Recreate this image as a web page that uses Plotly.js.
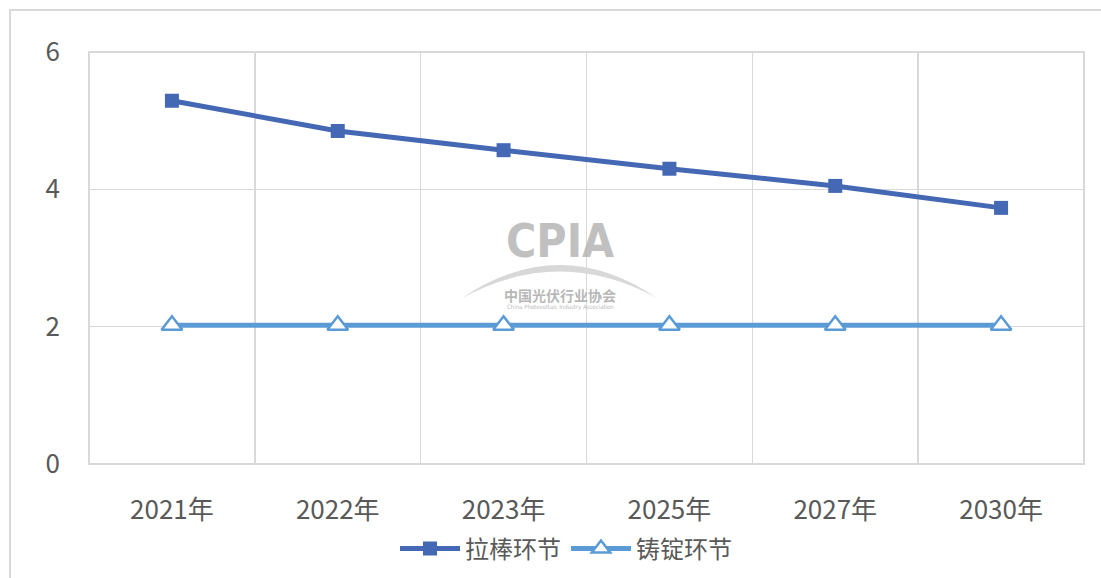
<!DOCTYPE html>
<html>
<head>
<meta charset="utf-8">
<script src="https://cdn.plot.ly/plotly-3.0.1.min.js"></script>
<style>
  html, body { margin: 0; padding: 0; background: #fff; }
  #chart { width: 1101px; height: 578px; }
</style>
</head>
<body>
<div id="chart"></div>
<script>
const years = ["2021年", "2022年", "2023年", "2025年", "2027年", "2030年"];
const pullRod = [5.29, 4.85, 4.57, 4.30, 4.05, 3.73];
const casting = [2.02, 2.02, 2.02, 2.02, 2.02, 2.02];
const yTicks = [0, 2, 4, 6];

const W = 1101, H = 578;
const M = { l: 89, r: 17, t: 52, b: 114, autoexpand: false };
const pw = W - M.l - M.r, ph = H - M.t - M.b;
// pixel -> paper coords
const px = x => (x - M.l) / pw;
const py = y => (H - M.b - y) / ph;

const font = "'Noto Sans CJK SC', 'Noto Sans', sans-serif";
const grey = "#d9d9d9";

const traces = [
  {
    x: years, y: pullRod, name: "拉棒环节",
    type: "scatter", mode: "lines+markers",
    line: { color: "#4468B4", width: 5 },
    marker: { symbol: "square", size: 14, color: "#4468B4" }
  },
  {
    x: years, y: casting, name: "铸锭环节",
    type: "scatter", mode: "lines+markers",
    line: { color: "#5B9BD5", width: 5 },
    marker: { symbol: "triangle-up", size: 18, color: "#fff", line: { width: 2.5, color: "#5B9BD5" } }
  }
];

const layout = {
  width: W, height: H,
  margin: M,
  paper_bgcolor: "#fff", plot_bgcolor: "#fff",
  font: { family: font, size: 26, color: "#595959" },
  showlegend: true,
  legend: {
    orientation: "h", x: px(566), xanchor: "center", y: py(549), yanchor: "middle",
    font: { size: 24, color: "#595959" }, itemwidth: 60, tracegroupgap: 0
  },
  xaxis: {
    type: "category", tickson: "boundaries",
    showgrid: true, gridcolor: grey, gridwidth: 1.5,
    showline: false, zeroline: false, ticks: "",
    ticklabelstandoff: 28,
    range: [-0.5, 5.5]
  },
  yaxis: {
    range: [0, 6], tickvals: yTicks,
    showgrid: true, gridcolor: grey, gridwidth: 1.5,
    zeroline: false, showline: false, ticks: "",
    ticklabelstandoff: 28
  },
  shapes: [
    // plot frame
    { type: "rect", xref: "paper", yref: "paper", x0: 0, x1: 1, y0: 0, y1: 1,
      line: { color: grey, width: 2 }, layer: "below" },
    // outer chart border
    { type: "rect", xref: "paper", yref: "paper", x0: px(10), x1: px(1110), y0: py(590), y1: py(10),
      line: { color: grey, width: 2 } },
    // watermark arc
    { type: "path", xref: "paper", yref: "paper",
      path: `M ${px(462)} ${py(298)} Q ${px(560)} ${py(232)} ${px(657)} ${py(298)} Q ${px(560)} ${py(245)} ${px(462)} ${py(298)} Z`,
      fillcolor: "rgba(190,190,190,0.6)", line: { width: 0 }, layer: "below" }
  ],
  annotations: [
    { xref: "paper", yref: "paper", x: px(560), y: py(241), text: "<b>CPIA</b>",
      showarrow: false, font: { family: "DejaVu Sans Condensed, sans-serif", size: 46, color: "rgba(175,175,175,0.8)" } },
    { xref: "paper", yref: "paper", x: px(560), y: py(295), text: "<b>中国光伏行业协会</b>",
      showarrow: false, font: { family: font, size: 14, color: "rgba(170,170,170,0.85)" } },
    { xref: "paper", yref: "paper", x: px(560), y: py(307), text: "China Photovoltaic Industry Association",
      showarrow: false, font: { family: "DejaVu Sans Condensed, sans-serif", size: 6, color: "rgba(170,170,170,0.85)" } }
  ]
};

Plotly.newPlot("chart", traces, layout, { displayModeBar: false, staticPlot: true });
</script>
</body>
</html>
